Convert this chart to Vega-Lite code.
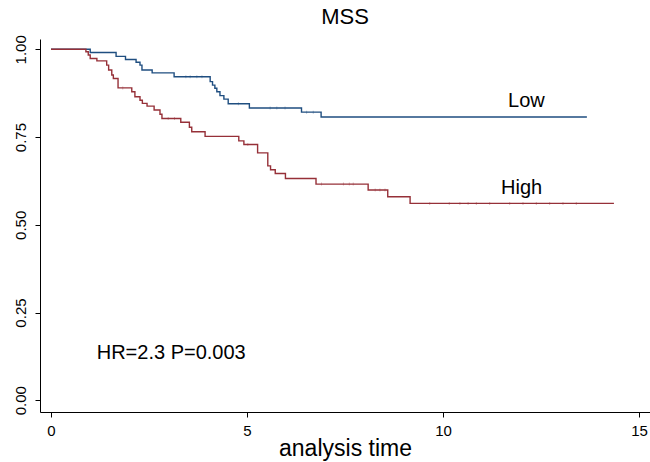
{
  "$schema": "https://vega.github.io/schema/vega-lite/v6.json",
  "width": 610,
  "height": 373,
  "autosize": {"type": "none"},
  "padding": {"left": 40, "top": 39, "right": 0, "bottom": 50},
  "background": "white",
  "title": {"text": "MSS", "font": "Liberation Sans", "fontSize": 22, "fontWeight": "normal", "color": "#000", "anchor": "middle", "offset": 6},
  "config": {
    "view": {"stroke": null},
    "font": "Liberation Sans",
    "axis": {"grid": false, "domainColor": "#000", "tickColor": "#000", "labelColor": "#000", "titleColor": "#000", "labelFont": "Liberation Sans", "titleFont": "Liberation Sans", "titleFontWeight": "normal", "tickSize": 5, "domainWidth": 1, "tickWidth": 1}
  },
  "datasets": {
    "km": [
      {"group": "Low", "t": 0, "s": 1.0},
      {"group": "Low", "t": 1.0, "s": 0.991},
      {"group": "Low", "t": 1.66, "s": 0.980},
      {"group": "Low", "t": 1.90, "s": 0.971},
      {"group": "Low", "t": 2.17, "s": 0.963},
      {"group": "Low", "t": 2.27, "s": 0.955},
      {"group": "Low", "t": 2.32, "s": 0.941},
      {"group": "Low", "t": 2.58, "s": 0.933},
      {"group": "Low", "t": 3.14, "s": 0.922},
      {"group": "Low", "t": 4.06, "s": 0.908},
      {"group": "Low", "t": 4.12, "s": 0.898},
      {"group": "Low", "t": 4.18, "s": 0.889},
      {"group": "Low", "t": 4.23, "s": 0.879},
      {"group": "Low", "t": 4.31, "s": 0.868},
      {"group": "Low", "t": 4.41, "s": 0.858},
      {"group": "Low", "t": 4.52, "s": 0.845},
      {"group": "Low", "t": 5.06, "s": 0.833},
      {"group": "Low", "t": 6.39, "s": 0.821},
      {"group": "Low", "t": 6.89, "s": 0.807},
      {"group": "Low", "t": 13.67, "s": 0.807},
      {"group": "High", "t": 0, "s": 1.0},
      {"group": "High", "t": 0.89, "s": 0.993},
      {"group": "High", "t": 0.95, "s": 0.984},
      {"group": "High", "t": 1.00, "s": 0.974},
      {"group": "High", "t": 1.17, "s": 0.967},
      {"group": "High", "t": 1.42, "s": 0.955},
      {"group": "High", "t": 1.47, "s": 0.941},
      {"group": "High", "t": 1.55, "s": 0.927},
      {"group": "High", "t": 1.59, "s": 0.917},
      {"group": "High", "t": 1.71, "s": 0.890},
      {"group": "High", "t": 2.06, "s": 0.879},
      {"group": "High", "t": 2.14, "s": 0.865},
      {"group": "High", "t": 2.27, "s": 0.855},
      {"group": "High", "t": 2.33, "s": 0.846},
      {"group": "High", "t": 2.45, "s": 0.838},
      {"group": "High", "t": 2.63, "s": 0.827},
      {"group": "High", "t": 2.78, "s": 0.815},
      {"group": "High", "t": 2.83, "s": 0.803},
      {"group": "High", "t": 3.31, "s": 0.792},
      {"group": "High", "t": 3.53, "s": 0.778},
      {"group": "High", "t": 3.59, "s": 0.765},
      {"group": "High", "t": 3.93, "s": 0.752},
      {"group": "High", "t": 4.79, "s": 0.739},
      {"group": "High", "t": 4.92, "s": 0.729},
      {"group": "High", "t": 5.27, "s": 0.705},
      {"group": "High", "t": 5.53, "s": 0.668},
      {"group": "High", "t": 5.60, "s": 0.657},
      {"group": "High", "t": 5.72, "s": 0.646},
      {"group": "High", "t": 5.98, "s": 0.632},
      {"group": "High", "t": 6.76, "s": 0.616},
      {"group": "High", "t": 8.09, "s": 0.599},
      {"group": "High", "t": 8.59, "s": 0.580},
      {"group": "High", "t": 9.16, "s": 0.561},
      {"group": "High", "t": 14.36, "s": 0.561}
    ],
    "censor": [
      {"group": "Low", "t": 3.44, "s": 0.922},
      {"group": "Low", "t": 3.55, "s": 0.922},
      {"group": "Low", "t": 3.72, "s": 0.922},
      {"group": "Low", "t": 3.85, "s": 0.922},
      {"group": "Low", "t": 4.78, "s": 0.845},
      {"group": "Low", "t": 5.59, "s": 0.833},
      {"group": "Low", "t": 5.76, "s": 0.833},
      {"group": "Low", "t": 5.97, "s": 0.833},
      {"group": "Low", "t": 6.52, "s": 0.821},
      {"group": "Low", "t": 6.69, "s": 0.821},
      {"group": "High", "t": 1.83, "s": 0.890},
      {"group": "High", "t": 2.99, "s": 0.803},
      {"group": "High", "t": 3.15, "s": 0.803},
      {"group": "High", "t": 5.02, "s": 0.729},
      {"group": "High", "t": 6.90, "s": 0.616},
      {"group": "High", "t": 7.46, "s": 0.616},
      {"group": "High", "t": 7.61, "s": 0.616},
      {"group": "High", "t": 7.71, "s": 0.616},
      {"group": "High", "t": 8.27, "s": 0.599},
      {"group": "High", "t": 8.39, "s": 0.599},
      {"group": "High", "t": 8.52, "s": 0.599},
      {"group": "High", "t": 9.66, "s": 0.561},
      {"group": "High", "t": 10.16, "s": 0.561},
      {"group": "High", "t": 10.43, "s": 0.561},
      {"group": "High", "t": 10.64, "s": 0.561},
      {"group": "High", "t": 10.85, "s": 0.561},
      {"group": "High", "t": 11.19, "s": 0.561},
      {"group": "High", "t": 11.70, "s": 0.561},
      {"group": "High", "t": 12.04, "s": 0.561},
      {"group": "High", "t": 12.38, "s": 0.561},
      {"group": "High", "t": 12.72, "s": 0.561},
      {"group": "High", "t": 13.06, "s": 0.561},
      {"group": "High", "t": 13.40, "s": 0.561}
    ],
    "labels": [
      {"t": 11.66, "s": 0.836, "label": "Low"},
      {"t": 11.48, "s": 0.589, "label": "High"},
      {"t": 1.166, "s": 0.119, "label": "HR=2.3 P=0.003"}
    ]
  },
  "layer": [
    {
      "data": {"name": "km"},
      "mark": {"type": "line", "interpolate": "step-after", "strokeWidth": 1.4, "clip": true},
      "encoding": {
        "x": {"field": "t", "type": "quantitative", "scale": {"domain": [-0.281, 15.28], "nice": false, "zero": false},
              "axis": {"values": [0, 5, 10, 15], "title": "analysis time", "labelFontSize": 15, "labelPadding": 6, "titleFontSize": 23, "titleBaseline": "alphabetic", "titleY": 43}},
        "y": {"field": "s", "type": "quantitative", "scale": {"domain": [-0.0334, 1.0294], "nice": false, "zero": false},
              "axis": {"values": [0, 0.25, 0.5, 0.75, 1], "format": ".2f", "title": null, "labelFontSize": 15, "labelAngle": 270, "labelAlign": "center", "labelBaseline": "alphabetic", "labelPadding": 10}},
        "color": {"field": "group", "type": "nominal", "scale": {"domain": ["Low", "High"], "range": ["#1f4e80", "#963038"]}, "legend": null},
        "detail": {"field": "group"}
      }
    },
    {
      "data": {"name": "censor"},
      "mark": {"type": "tick", "orient": "vertical", "size": 3, "thickness": 1, "opacity": 0.35},
      "encoding": {
        "x": {"field": "t", "type": "quantitative"},
        "y": {"field": "s", "type": "quantitative"},
        "color": {"field": "group", "type": "nominal", "legend": null}
      }
    },
    {
      "data": {"name": "labels"},
      "mark": {"type": "text", "align": "left", "baseline": "alphabetic", "fontSize": 20, "font": "Liberation Sans", "color": "#000"},
      "encoding": {
        "x": {"field": "t", "type": "quantitative"},
        "y": {"field": "s", "type": "quantitative"},
        "text": {"field": "label"}
      }
    }
  ]
}
